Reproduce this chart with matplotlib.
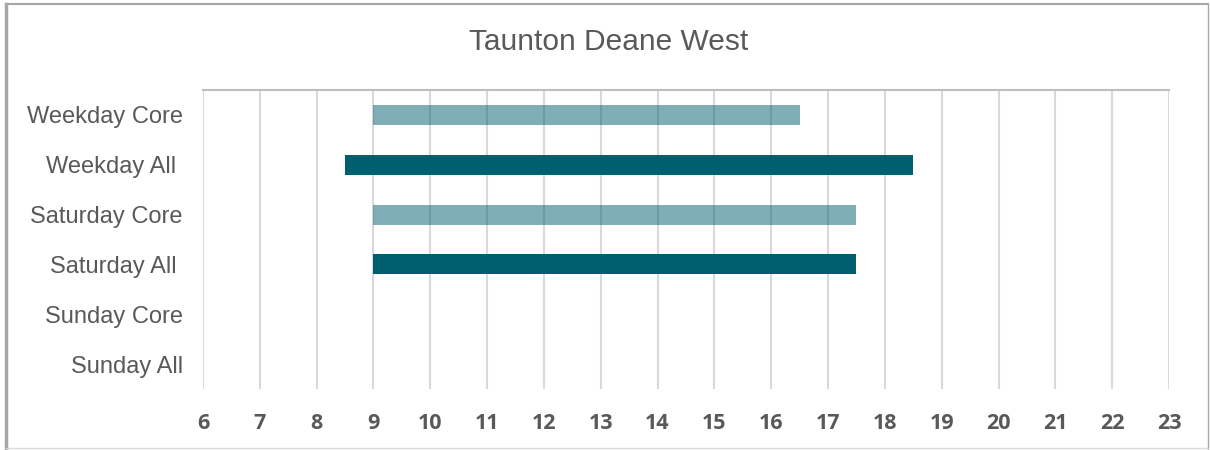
import matplotlib.pyplot as plt
from matplotlib.lines import Line2D

# Service hours per day type
categories = ['Weekday Core', 'Weekday All ', 'Saturday Core', 'Saturday All ', 'Sunday Core', 'Sunday All']
start_hour = [9, 8.5, 9, 9, None, None]
end_hour = [16.5, 18.5, 17.5, 17.5, None, None]
is_core = [True, False, True, False, True, False]
hour_ticks = list(range(6, 24))

dark = '#005f6e'
fig = plt.figure(figsize=(12.1, 4.5), dpi=100)
ax = fig.add_axes([203 / 1210, 1 - 389 / 450, 966 / 1210, 299 / 450])

ypos = list(range(len(categories)))
for y, s, e, core in zip(ypos, start_hour, end_hour, is_core):
    if s is None:
        continue
    ax.barh(y, e - s, left=s, height=0.4, color=dark,
            alpha=0.5 if core else 1.0, zorder=3, linewidth=0)

ax.set_xlim(6, 23)
ax.set_ylim(len(categories) - 0.5, -0.5)
ax.set_xticks(hour_ticks)
ax.set_xticklabels([str(h) for h in hour_ticks], fontfamily='Open Sans',
                   fontweight='bold', fontsize=15.5, color='#595959')
ax.set_yticks(ypos)
ax.set_yticklabels(categories, fontfamily='Liberation Sans', fontsize=17, color='#595959')
ax.tick_params(axis='both', length=0)
ax.tick_params(axis='x', pad=17)
ax.tick_params(axis='y', pad=14.5)
ax.grid(axis='x', color='#d9d9d9', linewidth=1.5, zorder=0)
for side in ['left', 'right', 'bottom']:
    ax.spines[side].set_visible(False)
ax.spines['top'].set_color('#bfbfbf')
ax.spines['top'].set_linewidth(1.5)

fig.text(609 / 1210, 1 - 42 / 450, 'Taunton Deane West', ha='center', va='center',
         fontfamily='Liberation Sans', fontsize=21.5, color='#595959')

# outer frame
fig.add_artist(Line2D([6 / 1210, 6 / 1210], [0, 1 - 4 / 450], transform=fig.transFigure, color='#a6a6a6', linewidth=2.5))
fig.add_artist(Line2D([6 / 1210, 1208 / 1210], [1 - 4 / 450, 1 - 4 / 450], transform=fig.transFigure, color='#a6a6a6', linewidth=1.5))
fig.add_artist(Line2D([1208 / 1210, 1208 / 1210], [0, 1 - 4 / 450], transform=fig.transFigure, color='#a6a6a6', linewidth=1))
fig.add_artist(Line2D([6 / 1210, 1208 / 1210], [2 / 450, 2 / 450], transform=fig.transFigure, color='#d9d9d9', linewidth=1))

fig.savefig('out.png', dpi=100)
